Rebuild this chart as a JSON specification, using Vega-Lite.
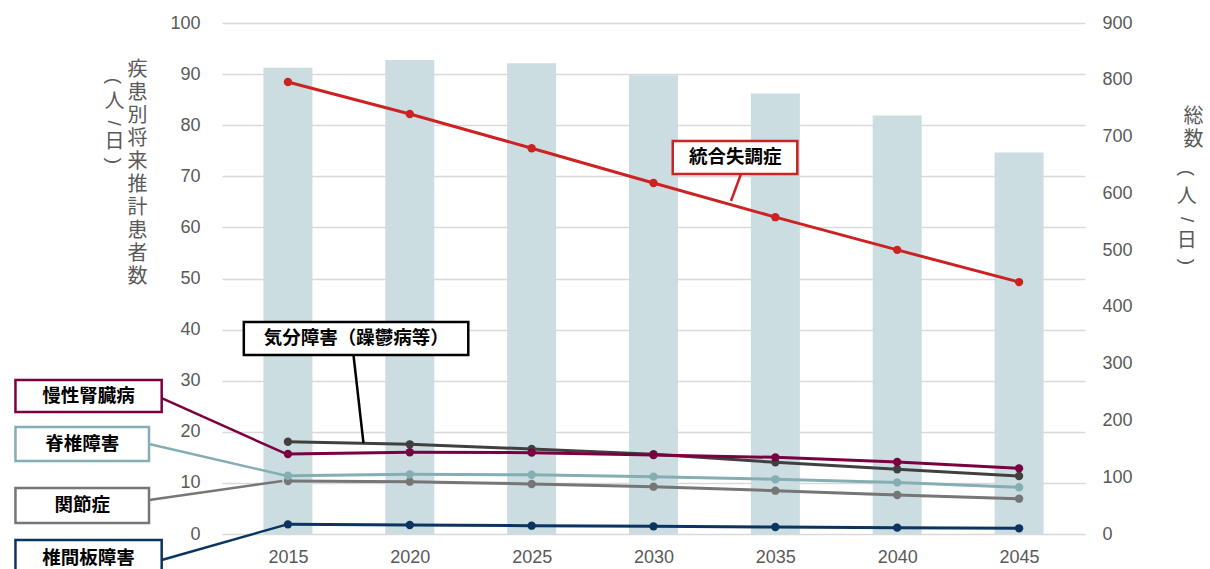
{
  "$schema": "https://vega.github.io/schema/vega-lite/v6.json",
  "width": 863,
  "height": 511,
  "autosize": {"type": "none"},
  "padding": {"left": 222, "top": 23, "right": 125, "bottom": 35},
  "background": "white",
  "config": {
    "view": {"stroke": null},
    "font": "Liberation Sans",
    "axis": {
      "domain": false,
      "ticks": false,
      "labelFont": "Liberation Sans",
      "labelFontSize": 18,
      "labelColor": "#595959",
      "titleFont": "Noto Sans CJK JP",
      "titleFontSize": 20,
      "titleFontWeight": "normal",
      "titleColor": "#595959"
    }
  },
  "datasets": {
    "totals": [
      {"year": 2015, "total": 821},
      {"year": 2020, "total": 835},
      {"year": 2025, "total": 829},
      {"year": 2030, "total": 808},
      {"year": 2035, "total": 776},
      {"year": 2040, "total": 737},
      {"year": 2045, "total": 672}
    ],
    "series": [
      {"disease": "気分障害", "year": 2015, "value": 18.06},
      {"disease": "気分障害", "year": 2020, "value": 17.55},
      {"disease": "気分障害", "year": 2025, "value": 16.63},
      {"disease": "気分障害", "year": 2030, "value": 15.6},
      {"disease": "気分障害", "year": 2035, "value": 14.03},
      {"disease": "気分障害", "year": 2040, "value": 12.66},
      {"disease": "気分障害", "year": 2045, "value": 11.35},
      {"disease": "関節症", "year": 2015, "value": 10.37},
      {"disease": "関節症", "year": 2020, "value": 10.24},
      {"disease": "関節症", "year": 2025, "value": 9.78},
      {"disease": "関節症", "year": 2030, "value": 9.26},
      {"disease": "関節症", "year": 2035, "value": 8.48},
      {"disease": "関節症", "year": 2040, "value": 7.63},
      {"disease": "関節症", "year": 2045, "value": 6.91},
      {"disease": "脊椎障害", "year": 2015, "value": 11.41},
      {"disease": "脊椎障害", "year": 2020, "value": 11.68},
      {"disease": "脊椎障害", "year": 2025, "value": 11.6},
      {"disease": "脊椎障害", "year": 2030, "value": 11.22},
      {"disease": "脊椎障害", "year": 2035, "value": 10.7},
      {"disease": "脊椎障害", "year": 2040, "value": 10.1},
      {"disease": "脊椎障害", "year": 2045, "value": 9.14},
      {"disease": "椎間板障害", "year": 2015, "value": 1.89},
      {"disease": "椎間板障害", "year": 2020, "value": 1.76},
      {"disease": "椎間板障害", "year": 2025, "value": 1.63},
      {"disease": "椎間板障害", "year": 2030, "value": 1.5},
      {"disease": "椎間板障害", "year": 2035, "value": 1.37},
      {"disease": "椎間板障害", "year": 2040, "value": 1.24},
      {"disease": "椎間板障害", "year": 2045, "value": 1.11},
      {"disease": "慢性腎臓病", "year": 2015, "value": 15.66},
      {"disease": "慢性腎臓病", "year": 2020, "value": 15.99},
      {"disease": "慢性腎臓病", "year": 2025, "value": 15.92},
      {"disease": "慢性腎臓病", "year": 2030, "value": 15.46},
      {"disease": "慢性腎臓病", "year": 2035, "value": 15.0},
      {"disease": "慢性腎臓病", "year": 2040, "value": 14.09},
      {"disease": "慢性腎臓病", "year": 2045, "value": 12.85},
      {"disease": "統合失調症", "year": 2015, "value": 88.45},
      {"disease": "統合失調症", "year": 2020, "value": 82.2},
      {"disease": "統合失調症", "year": 2025, "value": 75.5},
      {"disease": "統合失調症", "year": 2030, "value": 68.7},
      {"disease": "統合失調症", "year": 2035, "value": 62.0},
      {"disease": "統合失調症", "year": 2040, "value": 55.6},
      {"disease": "統合失調症", "year": 2045, "value": 49.3}
    ],
    "ann": [
      {"key": "慢性腎臓病", "label": "慢性腎臓病", "bx1": 2003.82, "bx2": 2009.82, "by1": 30.14, "by2": 23.87, "tx": 2006.82, "ty": 27.0, "lx1": 2009.82, "ly1": 26.6, "lx2": 2014.93, "ly2": 15.66},
      {"key": "脊椎障害", "label": "脊椎障害", "bx1": 2003.82, "bx2": 2009.3, "by1": 20.94, "by2": 14.29, "tx": 2006.56, "ty": 17.61, "lx1": 2009.3, "ly1": 17.61, "lx2": 2014.93, "ly2": 11.41},
      {"key": "関節症", "label": "関節症", "bx1": 2003.82, "bx2": 2009.3, "by1": 9.0, "by2": 2.15, "tx": 2006.56, "ty": 5.58, "lx1": 2009.3, "ly1": 6.65, "lx2": 2014.77, "ly2": 10.37},
      {"key": "椎間板障害", "label": "椎間板障害", "bx1": 2003.82, "bx2": 2009.82, "by1": -1.17, "by2": -8.2, "tx": 2006.82, "ty": -4.7, "lx1": 2009.82, "ly1": -5.09, "lx2": 2014.97, "ly2": 1.89},
      {"key": "気分障害", "label": "気分障害（躁鬱病等）", "bx1": 2013.19, "bx2": 2022.4, "by1": 41.49, "by2": 35.03, "tx": 2017.8, "ty": 38.26, "lx1": 2017.69, "ly1": 35.03, "lx2": 2018.1, "ly2": 17.8},
      {"key": "統合失調症", "label": "統合失調症", "bx1": 2030.79, "bx2": 2035.9, "by1": 76.9, "by2": 70.45, "tx": 2033.35, "ty": 73.68, "lx1": 2033.59, "ly1": 70.45, "lx2": 2033.18, "ly2": 65.17}
    ],
    "unitUpright": [
      {"t": "人", "x": 2007.88, "y": 84.54},
      {"t": "日", "x": 2007.88, "y": 76.71},
      {"t": "人", "x": 2051.88, "y": 65.95},
      {"t": "日", "x": 2051.88, "y": 57.34}
    ],
    "unitRotated": [
      {"t": "(", "x": 2007.88, "y": 88.65},
      {"t": "/", "x": 2007.88, "y": 80.4},
      {"t": ")", "x": 2007.88, "y": 73.0},
      {"t": "(", "x": 2051.88, "y": 70.65},
      {"t": "/", "x": 2051.88, "y": 61.5},
      {"t": ")", "x": 2051.88, "y": 53.23}
    ]
  },
  "layer": [
    {
      "data": {"name": "totals"},
      "mark": {"type": "bar", "size": 49, "color": "#cbdde0"},
      "encoding": {
        "x": {
          "field": "year", "type": "quantitative",
          "scale": {"domain": [2012.5, 2047.5], "nice": false, "zero": false},
          "axis": {"values": [2015, 2020, 2025, 2030, 2035, 2040, 2045], "format": "d", "title": null, "grid": false, "labelPadding": 14}
        },
        "y": {
          "field": "total", "type": "quantitative",
          "scale": {"domain": [0, 900], "nice": false},
          "axis": {
            "orient": "right",
            "values": [0, 100, 200, 300, 400, 500, 600, 700, 800, 900],
            "grid": false,
            "labelPadding": 17,
            "title": ["総", "数"],
            "titleAngle": 0,
            "titleAlign": "center",
            "titleBaseline": "top",
            "titleLineHeight": 23,
            "titleX": 108,
            "titleY": 83
          }
        }
      }
    },
    {
      "layer": [
        {
          "data": {"name": "series"},
          "mark": {"type": "line", "strokeWidth": 3, "point": {"filled": true, "size": 70}},
          "encoding": {
            "x": {"field": "year", "type": "quantitative"},
            "y": {
              "field": "value", "type": "quantitative",
              "scale": {"domain": [0, 100], "nice": false},
              "axis": {
                "values": [0, 10, 20, 30, 40, 50, 60, 70, 80, 90, 100],
                "grid": true,
                "gridColor": "#d9d9d9",
                "gridWidth": 1.5,
                "labelPadding": 22,
                "title": ["疾", "患", "別", "将", "来", "推", "計", "患", "者", "数"],
                "titleAngle": 0,
                "titleAlign": "center",
                "titleBaseline": "top",
                "titleLineHeight": 23.1,
                "titleX": -85,
                "titleY": 36
              }
            },
            "color": {
              "field": "disease", "type": "nominal",
              "scale": {
                "domain": ["気分障害", "関節症", "脊椎障害", "椎間板障害", "慢性腎臓病", "統合失調症"],
                "range": ["#404040", "#767676", "#84aeb2", "#0b3560", "#7a0040", "#cc2222"]
              },
              "legend": null
            }
          }
        },
        {
          "data": {"name": "ann"},
          "mark": {"type": "rule", "strokeWidth": 2.5},
          "encoding": {
            "x": {"field": "lx1", "type": "quantitative"},
            "x2": {"field": "lx2"},
            "y": {"field": "ly1", "type": "quantitative"},
            "y2": {"field": "ly2"},
            "stroke": {
              "field": "key", "type": "nominal",
              "scale": {
                "domain": ["気分障害", "関節症", "脊椎障害", "椎間板障害", "慢性腎臓病", "統合失調症"],
                "range": ["#000000", "#767676", "#84aeb2", "#0b3560", "#7a0040", "#cc2222"]
              },
              "legend": null
            }
          }
        },
        {
          "data": {"name": "ann"},
          "mark": {"type": "rect", "fill": "white", "strokeWidth": 2.5},
          "encoding": {
            "x": {"field": "bx1", "type": "quantitative"},
            "x2": {"field": "bx2"},
            "y": {"field": "by1", "type": "quantitative"},
            "y2": {"field": "by2"},
            "stroke": {"field": "key", "type": "nominal", "legend": null}
          }
        },
        {
          "data": {"name": "ann"},
          "mark": {"type": "text", "font": "Noto Sans CJK JP", "fontWeight": "bold", "fontSize": 18.5, "color": "#000000", "align": "center", "baseline": "middle"},
          "encoding": {
            "x": {"field": "tx", "type": "quantitative"},
            "y": {"field": "ty", "type": "quantitative"},
            "text": {"field": "label"}
          }
        },
        {
          "data": {"name": "unitUpright"},
          "mark": {"type": "text", "font": "Noto Sans CJK JP", "fontSize": 20, "color": "#595959", "align": "center", "baseline": "middle"},
          "encoding": {
            "x": {"field": "x", "type": "quantitative"},
            "y": {"field": "y", "type": "quantitative"},
            "text": {"field": "t"}
          }
        },
        {
          "data": {"name": "unitRotated"},
          "mark": {"type": "text", "font": "Liberation Sans", "fontSize": 19, "color": "#595959", "align": "center", "baseline": "middle", "angle": 90},
          "encoding": {
            "x": {"field": "x", "type": "quantitative"},
            "y": {"field": "y", "type": "quantitative"},
            "text": {"field": "t"}
          }
        }
      ]
    }
  ],
  "resolve": {"scale": {"y": "independent"}}
}
